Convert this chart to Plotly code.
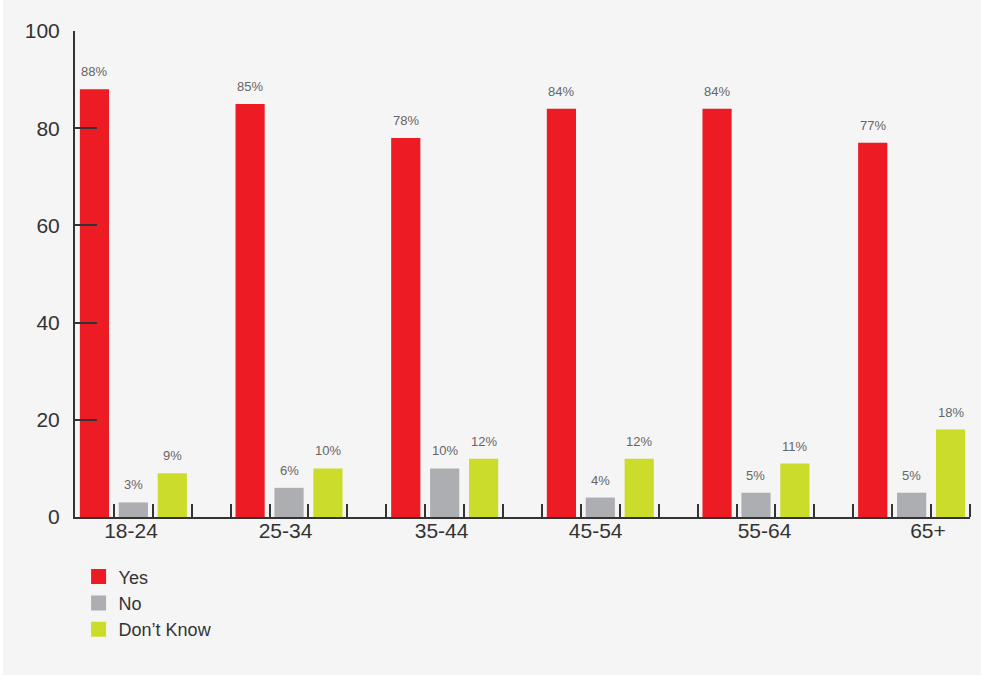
import plotly.graph_objects as go

# Survey responses by age group (percent)
age_groups = ["18-24", "25-34", "35-44", "45-54", "55-64", "65+"]
series_names = ["Yes", "No", "Don\u2019t Know"]
yes_vals = [88, 85, 78, 84, 84, 77]
no_vals = [3, 6, 10, 4, 5, 5]
dont_know_vals = [9, 10, 12, 12, 11, 18]
y_ticks = [0, 20, 40, 60, 80, 100]

colors = ["#ED1C24", "#ADAEB1", "#CCDC2A"]
text_dark = "#333333"
label_grey = "#666666"
bg = "#F5F5F5"
font_family = "Liberation Sans, Arial, sans-serif"

# each group takes four slots: three bars plus one empty spacer slot
slots_per_group = 4
n_slots = slots_per_group * len(age_groups) - 1
# small hand-tuned nudges of the category labels (in slots)
label_nudge = [-0.06, -0.09, -0.08, -0.12, 0.22, 0.42]

fig = go.Figure()
annotations = []
for s, (name, vals) in enumerate(zip(series_names, [yes_vals, no_vals, dont_know_vals])):
    xs = [slots_per_group * g + s for g in range(len(age_groups))]
    fig.add_trace(go.Bar(
        x=xs, y=vals, width=0.75, marker=dict(color=colors[s], line=dict(width=0)),
        name=name, showlegend=False, hoverinfo="skip",
    ))
    # legend entry with a larger square swatch
    fig.add_trace(go.Scatter(
        x=[None], y=[None], mode="markers", name=name,
        marker=dict(symbol="square", size=15, color=colors[s], line=dict(width=0)),
    ))
    for x, v in zip(xs, vals):
        annotations.append(dict(
            x=x, y=v, xref="x", yref="y", text=f"{v}%", showarrow=False,
            yanchor="bottom", yshift=8,
            font=dict(size=13, color=label_grey, family=font_family),
        ))

label_pos = [slots_per_group * g + 1 + label_nudge[g] for g in range(len(age_groups))]
boundaries = [i - 0.5 for i in range(1, n_slots + 1)]

fig.update_layout(
    width=981, height=675,
    margin=dict(l=75, r=11, t=31, b=158),
    paper_bgcolor=bg, plot_bgcolor=bg,
    barmode="overlay",
    font=dict(family=font_family, color=text_dark),
    xaxis=dict(
        range=[-0.5, n_slots - 0.5], showgrid=False, zeroline=False,
        showline=True, linecolor=text_dark, linewidth=2,
        tickmode="array", tickvals=label_pos, ticktext=age_groups, ticks="",
        tickfont=dict(size=21, color=text_dark), ticklabelstandoff=-6,
        minor=dict(tickmode="array", tickvals=boundaries, ticks="inside",
                   ticklen=13, tickwidth=2, tickcolor=text_dark, showgrid=False),
    ),
    yaxis=dict(
        range=[0, 100], showgrid=False, zeroline=False,
        showline=True, linecolor=text_dark, linewidth=2,
        tickmode="array", tickvals=y_ticks, ticks="inside", ticklen=22,
        tickwidth=2, tickcolor=text_dark,
        tickfont=dict(size=21, color=text_dark), ticklabelstandoff=9,
    ),
    legend=dict(
        x=0.004, y=-0.085, xanchor="left", yanchor="top",
        font=dict(size=18, color=text_dark), bgcolor="rgba(0,0,0,0)",
        tracegroupgap=0, itemclick=False,
    ),
    annotations=annotations,
    shapes=[dict(type="rect", xref="paper", yref="paper",
                 x0=-75 / 895, x1=-72 / 895, y0=-158 / 486, y1=1 + 31 / 486,
                 fillcolor="white", line=dict(width=0), layer="below")],
)

fig.write_html("out.html")
